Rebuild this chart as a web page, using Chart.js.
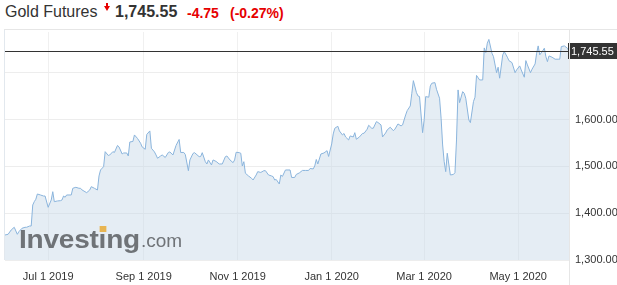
<!DOCTYPE html>
<html lang="en">
<head>
<meta charset="UTF-8">
<title>Gold Futures</title>
<script src="https://cdn.jsdelivr.net/npm/chart.js@4"></script>
<style>
  body { margin: 0; background: #fff; font-family: Arial, "Liberation Sans", sans-serif; }
  #wrap { position: relative; width: 617px; height: 285px; overflow: hidden; }
  .hd { position: absolute; white-space: nowrap; line-height: 20px; top: 2px; }
  #name { left: 5px; font-size: 16px; color: #333; }
  #last { left: 115px; font-size: 16px; font-weight: bold; color: #333; }
  #chg { left: 187px; font-size: 14px; font-weight: bold; color: #e60000; top: 3px; }
  #pct { left: 230px; font-size: 14px; font-weight: bold; color: #e60000; top: 3px; }
  #stem { position: absolute; left: 106px; top: 3px; width: 2px; height: 3px; background: #e60000; }
  #head { position: absolute; left: 103.5px; top: 6px; width: 0; height: 0;
          border-left: 3.5px solid transparent; border-right: 3.5px solid transparent; border-top: 5px solid #e60000; }
  #hline { position: absolute; left: 4px; top: 29px; width: 613px; height: 1px; background: #e6e6e6; }
  #vline { position: absolute; left: 569px; top: 30px; width: 1px; height: 255px; background: #e6e6e6; }
  #lline { position: absolute; left: 4px; top: 30px; width: 1px; height: 230px; background: #e2e8ee; }
  #c { position: absolute; left: 0; top: 30px; }
  .wm { position: absolute; color: #6f7377; white-space: nowrap; line-height: 25px; }
  #inv { left: 19px; top: 227px; font-size: 25px; font-weight: bold; transform: scaleX(1.12); transform-origin: left; letter-spacing: -0.2px; }
  #com { left: 141px; top: 228px; font-size: 19px; }
  .dot { position: relative; }
  .dot::after { content: ''; position: absolute; left: 0.5px; top: 1px; width: 6px; height: 6px; background: #e8b552; }
</style>
</head>
<body>
<div id="wrap">
  <div class="hd" id="name">Gold Futures</div>
  <div id="stem"></div><div id="head"></div>
  <div class="hd" id="last">1,745.55</div>
  <div class="hd" id="chg">-4.75</div>
  <div class="hd" id="pct">(-0.27%)</div>
  <div id="hline"></div>
  <canvas id="c" width="617" height="255"></canvas>
  <div id="lline"></div>
  <div id="vline"></div>
  <div class="wm" id="inv">Invest<span class="dot">ı</span>ng</div>
  <div class="wm" id="com">.com</div>
</div>
<script>
// price history
const dates = [
  "2019-06-03","2019-06-05","2019-06-07","2019-06-09","2019-06-11","2019-06-12","2019-06-14","2019-06-16","2019-06-17","2019-06-19",
  "2019-06-20","2019-06-21","2019-06-22","2019-06-23","2019-06-24","2019-06-26","2019-06-28","2019-06-29","2019-07-01","2019-07-03",
  "2019-07-04","2019-07-05","2019-07-07","2019-07-09","2019-07-10","2019-07-11","2019-07-12","2019-07-13","2019-07-16","2019-07-17",
  "2019-07-19","2019-07-21","2019-07-22","2019-07-23","2019-07-26","2019-07-28","2019-07-29","2019-07-31","2019-08-02","2019-08-03",
  "2019-08-04","2019-08-06","2019-08-07","2019-08-09","2019-08-10","2019-08-12","2019-08-13","2019-08-15","2019-08-16","2019-08-18",
  "2019-08-19","2019-08-21","2019-08-22","2019-08-23","2019-08-25","2019-08-26","2019-08-28","2019-08-30","2019-08-31","2019-09-02",
  "2019-09-03","2019-09-05","2019-09-06","2019-09-08","2019-09-09","2019-09-10","2019-09-12","2019-09-13","2019-09-15","2019-09-17",
  "2019-09-18","2019-09-20","2019-09-22","2019-09-24","2019-09-25","2019-09-27","2019-09-28","2019-09-30","2019-10-01","2019-10-03",
  "2019-10-04","2019-10-07","2019-10-08","2019-10-09","2019-10-11","2019-10-12","2019-10-13","2019-10-15","2019-10-16","2019-10-18",
  "2019-10-20","2019-10-22","2019-10-24","2019-10-25","2019-10-27","2019-10-29","2019-10-30","2019-10-31","2019-11-02","2019-11-03",
  "2019-11-04","2019-11-05","2019-11-06","2019-11-08","2019-11-10","2019-11-11","2019-11-13","2019-11-14","2019-11-16","2019-11-18",
  "2019-11-19","2019-11-21","2019-11-23","2019-11-24","2019-11-25","2019-11-26","2019-11-28","2019-11-29","2019-11-30","2019-12-02",
  "2019-12-03","2019-12-05","2019-12-06","2019-12-08","2019-12-09","2019-12-11","2019-12-13","2019-12-15","2019-12-17","2019-12-18",
  "2019-12-20","2019-12-21","2019-12-22","2019-12-23","2019-12-25","2019-12-27","2019-12-29","2019-12-30","2020-01-01","2020-01-02",
  "2020-01-03","2020-01-05","2020-01-06","2020-01-08","2020-01-09","2020-01-10","2020-01-12","2020-01-13","2020-01-15","2020-01-16",
  "2020-01-17","2020-01-19","2020-01-21","2020-01-22","2020-01-24","2020-01-25","2020-01-27","2020-01-28","2020-01-30","2020-01-31",
  "2020-02-02","2020-02-03","2020-02-05","2020-02-06","2020-02-08","2020-02-10","2020-02-11","2020-02-13","2020-02-15","2020-02-16",
  "2020-02-18","2020-02-19","2020-02-21","2020-02-22","2020-02-23","2020-02-25","2020-02-26","2020-02-27","2020-02-29","2020-03-01",
  "2020-03-02","2020-03-04","2020-03-05","2020-03-06","2020-03-08","2020-03-09","2020-03-11","2020-03-12","2020-03-13","2020-03-14",
  "2020-03-15","2020-03-16","2020-03-18","2020-03-20","2020-03-21","2020-03-22","2020-03-23","2020-03-24","2020-03-26","2020-03-27",
  "2020-03-28","2020-03-30","2020-03-31","2020-04-02","2020-04-03","2020-04-04","2020-04-06","2020-04-08","2020-04-09","2020-04-10",
  "2020-04-11","2020-04-12","2020-04-14","2020-04-15","2020-04-17","2020-04-18","2020-04-19","2020-04-21","2020-04-22","2020-04-24",
  "2020-04-25","2020-04-27","2020-04-29","2020-04-30","2020-05-02","2020-05-03","2020-05-05","2020-05-06","2020-05-07","2020-05-09",
  "2020-05-10","2020-05-12","2020-05-13","2020-05-14","2020-05-15","2020-05-17","2020-05-18","2020-05-19","2020-05-20","2020-05-21",
  "2020-05-23","2020-05-25","2020-05-27","2020-05-28","2020-05-29","2020-05-31","2020-06-02","2020-06-03"
];
const prices = [
  1353.4,1354.9,1364.1,1369.9,1354.9,1360.5,1367.7,1369.9,1369.9,1372.6,
  1372.6,1417.5,1424.6,1429.7,1441.0,1438.9,1436.7,1436.7,1412.6,1428.2,
  1445.9,1424.6,1426.1,1426.7,1428.2,1436.7,1434.0,1438.9,1438.9,1453.2,
  1455.3,1453.2,1453.2,1449.6,1443.8,1449.6,1456.6,1453.2,1449.6,1479.5,
  1492.3,1499.4,1531.4,1523.3,1524.4,1531.4,1529.7,1544.7,1541.5,1526.5,
  1528.6,1528.6,1522.2,1552.1,1553.2,1567.1,1559.6,1549.4,1541.5,1536.5,
  1568.2,1575.7,1538.7,1530.8,1524.4,1517.3,1522.2,1524.4,1519.0,1529.7,
  1530.8,1524.4,1544.7,1557.5,1529.7,1529.7,1525.4,1490.8,1513.7,1527.6,
  1529.3,1520.7,1521.2,1529.3,1510.0,1505.1,1513.7,1503.0,1513.7,1510.5,
  1505.1,1505.1,1520.7,1522.2,1513.7,1507.9,1513.7,1530.1,1529.3,1528.0,
  1500.9,1510.0,1485.3,1479.5,1474.6,1470.9,1481.6,1488.7,1487.0,1490.8,
  1490.8,1481.6,1479.5,1478.0,1470.9,1472.0,1462.4,1481.6,1478.4,1492.3,
  1492.3,1492.3,1476.3,1476.3,1482.7,1486.0,1491.3,1491.3,1491.3,1495.5,
  1494.5,1500.9,1514.7,1505.1,1526.5,1528.6,1533.5,1521.2,1547.9,1569.2,
  1581.4,1585.7,1575.7,1567.1,1570.3,1562.8,1556.4,1565.0,1562.8,1572.0,
  1557.9,1562.8,1570.3,1570.7,1579.3,1587.8,1581.4,1581.4,1595.5,1593.8,
  1588.5,1562.8,1571.4,1577.8,1583.6,1576.3,1579.3,1590.6,1586.4,1588.5,
  1609.8,1619.0,1629.1,1656.2,1683.1,1657.5,1650.4,1649.0,1572.0,1599.2,
  1649.0,1647.7,1671.8,1677.6,1678.9,1664.8,1645.5,1602.8,1545.7,1510.0,
  1488.7,1528.0,1481.6,1482.7,1486.5,1556.4,1663.3,1636.1,1659.6,1656.2,
  1645.5,1599.2,1593.4,1638.3,1647.7,1694.3,1684.6,1684.6,1753.0,1743.0,
  1763.1,1771.2,1741.7,1734.4,1700.2,1711.8,1688.3,1738.1,1745.1,1733.2,
  1725.9,1721.6,1700.2,1706.0,1714.6,1706.0,1690.4,1725.9,1716.7,1700.2,
  1707.5,1718.8,1741.7,1757.3,1738.1,1747.3,1752.4,1734.4,1723.7,1735.9,
  1733.2,1728.9,1728.9,1728.9,1755.8,1757.3,1752.4,1745.55
];
const tickDates = ["2019-07-01","2019-09-01","2019-11-01","2020-01-01","2020-03-01","2020-05-01"];
const tickLabels = ["Jul 1 2019","Sep 1 2019","Nov 1 2019","Jan 1 2020","Mar 1 2020","May 1 2020"];
const yTicks = [1300, 1400, 1500, 1600, 1700];
const lastPrice = 1745.55;

const start = Date.UTC(2019, 5, 3);
const dayOf = (s) => (Date.parse(s + "T00:00:00Z") - start) / 86400000;
const font = { family: "Arial, 'Liberation Sans', sans-serif", size: 11 };

const priceLine = {
  id: "priceLine",
  afterDatasetsDraw(chart) {
    const { ctx, chartArea } = chart;
    const y = Math.round(chart.scales.y.getPixelForValue(lastPrice)) + 0.5;
    ctx.save();
    ctx.strokeStyle = "#333";
    ctx.lineWidth = 1;
    ctx.beginPath();
    ctx.moveTo(chartArea.left, y);
    ctx.lineTo(chartArea.right, y);
    ctx.stroke();
    ctx.fillStyle = "#333";
    ctx.fillRect(chartArea.right - 1, y - 8.5, 50, 16);
    ctx.fillStyle = "#fff";
    ctx.font = "11px " + font.family;
    ctx.textBaseline = "middle";
    ctx.fillText(lastPrice.toLocaleString("en-US", { minimumFractionDigits: 2 }), chartArea.right + 2, y);
    ctx.restore();
  },
};

new Chart(document.getElementById("c"), {
  type: "line",
  data: {
    datasets: [{
      data: dates.map((d, i) => ({ x: dayOf(d), y: prices[i] })),
      borderColor: "#8ab4dc",
      borderWidth: 1,
      backgroundColor: "rgba(197,215,231,0.45)",
      fill: "start",
      pointRadius: 0,
      tension: 0,
    }],
  },
  options: {
    responsive: false,
    animation: false,
    layout: { padding: { left: 5, top: 2, right: 0, bottom: 0 } },
    plugins: { legend: { display: false }, tooltip: { enabled: false } },
    scales: {
      x: {
        type: "linear",
        min: 0,
        max: 366,
        grid: { color: "#f0f0f0", drawTicks: false },
        border: { display: false },
        afterBuildTicks: (s) => { s.ticks = tickDates.map((d) => ({ value: dayOf(d) })); },
        afterFit: (s) => { s.height = 25; s.paddingLeft = 0; s.paddingRight = 0; },
        ticks: {
          autoSkip: false,
          maxRotation: 0,
          padding: 10,
          color: "#333",
          font: font,
          callback: (v) => tickLabels[tickDates.findIndex((d) => dayOf(d) === v)],
        },
      },
      y: {
        position: "right",
        min: 1300,
        max: 1787,
        grid: { color: "#ededed", drawTicks: false },
        border: { display: false },
        afterBuildTicks: (s) => { s.ticks = yTicks.map((v) => ({ value: v })); },
        afterFit: (s) => { s.width = 48; s.paddingTop = 0; s.paddingBottom = 0; },
        ticks: {
          padding: 6,
          color: "#333",
          font: font,
          callback: (v) => (v === 1700 ? "" : v.toLocaleString("en-US", { minimumFractionDigits: 2 })),
        },
      },
    },
  },
  plugins: [priceLine],
});
</script>
</body>
</html>
